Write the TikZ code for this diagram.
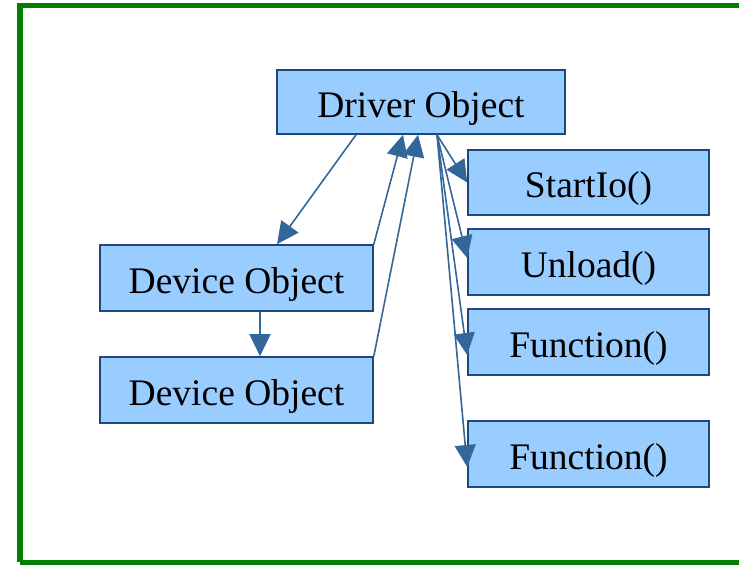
\documentclass[tikz,border=0pt]{standalone}
\usepackage{fontspec}
\setmainfont{Liberation Serif}
\usetikzlibrary{arrows.meta,calc}
\definecolor{boxfill}{HTML}{99CCFF}
\definecolor{boxline}{HTML}{1A4A7A}
\definecolor{linkcol}{HTML}{336699}
\definecolor{framecol}{HTML}{008000}
\begin{document}
\begin{tikzpicture}[x=1pt,y=-1pt,
  objbox/.style={draw=boxline,line width=1.6pt,fill=boxfill,inner sep=0pt,
    text height=30pt,text depth=0pt,
    font=\fontsize{37.5}{44}\selectfont,text=black},
  link/.style={draw=linkcol,line width=1.6pt,-{Triangle[length=22pt,width=21pt]}}]
\useasboundingbox (0,0) rectangle (739,565);
% outer frame, running off the right edge
\draw[framecol,line width=5.5pt] (20,562) -- (20,5.5) -- (760,5.5);
\draw[framecol,line width=5pt] (20,562) -- (760,562);
% objects
\node[objbox,minimum width=288pt,minimum height=64pt] (drv) at (421,102) {Driver Object};
\node[objbox,minimum width=241pt,minimum height=65pt] (st) at (588.5,182.5) {StartIo()};
\node[objbox,minimum width=241pt,minimum height=66pt] (un) at (588.5,262) {Unload()};
\node[objbox,minimum width=241pt,minimum height=66pt] (fa) at (588.5,342) {Function()};
\node[objbox,minimum width=241pt,minimum height=66pt] (fb) at (588.5,454) {Function()};
\node[objbox,minimum width=273pt,minimum height=66pt] (dva) at (236.5,278) {Device Object};
\node[objbox,minimum width=273pt,minimum height=66pt] (dvb) at (236.5,390) {Device Object};
% links
\draw[link] ([xshift=-65pt]drv.south) -- ([xshift=40.5pt]dva.north);
\draw[link] (dva.north east) -- ([xshift=-18pt]drv.south);
\draw[link] (dvb.north east) -- ([xshift=-3pt]drv.south);
\draw[link] ([xshift=23.5pt]dva.south) -- ([xshift=23.5pt]dvb.north);
\draw[link] ([xshift=16pt]drv.south) -- (st.west);
\draw[link] ([xshift=16pt]drv.south) -- ([yshift=4pt]un.west);
\draw[link] ([xshift=16pt]drv.south) -- ([yshift=-13pt]fa.west);
\draw[link] ([xshift=16pt]drv.south) -- ([yshift=-13pt]fb.west);
\end{tikzpicture}
\end{document}
